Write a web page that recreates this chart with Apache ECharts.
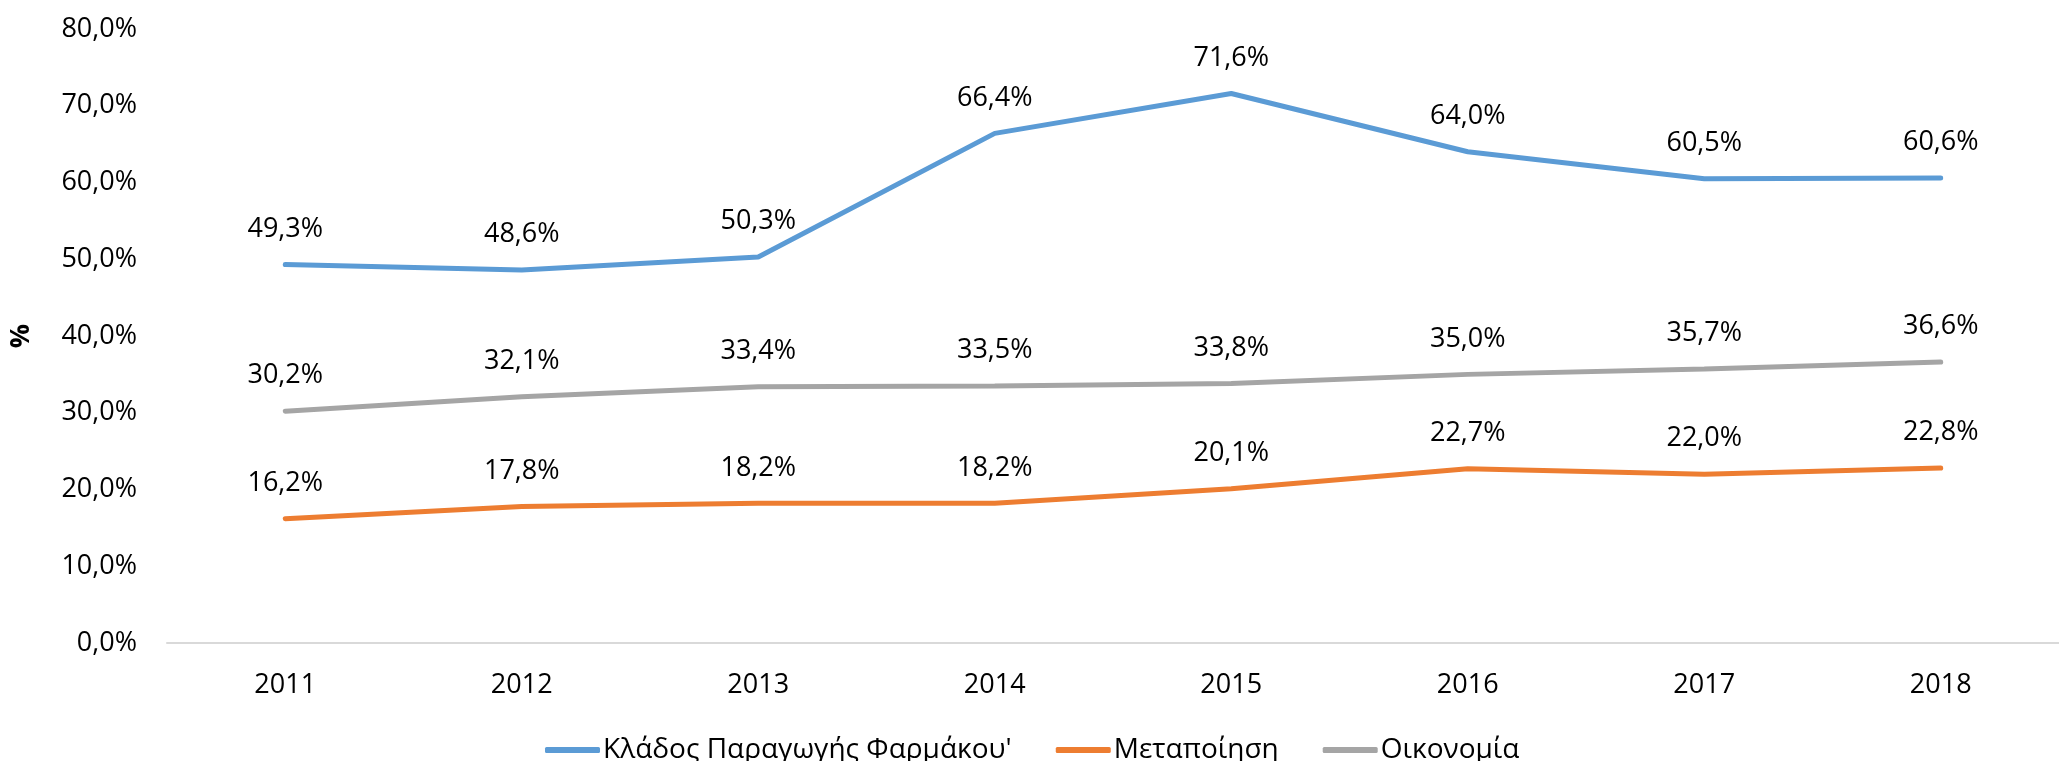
<!DOCTYPE html>
<html>
<head>
<meta charset="utf-8">
<script src="https://cdn.jsdelivr.net/npm/echarts@6/dist/echarts.min.js"></script>
<style>
  html, body { margin: 0; padding: 0; background: #fff; }
  #chart { width: 2059px; height: 761px; }
</style>
</head>
<body>
<div id="chart"></div>
<script>
const years = ['2011', '2012', '2013', '2014', '2015', '2016', '2017', '2018']
const pharma = [49.3, 48.6, 50.3, 66.4, 71.6, 64.0, 60.5, 60.6]
const manufacturing = [16.2, 17.8, 18.2, 18.2, 20.1, 22.7, 22.0, 22.8]
const economy = [30.2, 32.1, 33.4, 33.5, 33.8, 35.0, 35.7, 36.6]

const font = 'Open Sans'
const pct = v => v.toFixed(1).replace('.', ',') + '%'

const makeSeries = (name, data, color) => ({
  name,
  type: 'line',
  data,
  symbol: 'circle',
  symbolSize: 0,
  lineStyle: { width: 5, color, cap: 'round' },
  itemStyle: { color },
  label: {
    show: true,
    position: 'top',
    distance: 22,
    fontFamily: font,
    fontSize: 27,
    color: '#000',
    formatter: p => pct(p.value)
  }
})

const chart = echarts.init(document.getElementById('chart'))

chart.setOption({
  animation: false,
  grid: { left: 160, right: -8, top: 29, bottom: 118 },
  legend: {
    left: 540,
    top: 731,
    icon: 'roundRect',
    itemWidth: 55,
    itemHeight: 6,
    itemGap: 44,
    textStyle: { fontFamily: font, fontSize: 28, color: '#000', padding: [0, 0, 0, -2] }
  },
  xAxis: {
    type: 'category',
    data: years,
    axisLine: { lineStyle: { color: '#d9d9d9', width: 2 } },
    axisTick: { show: false },
    axisLabel: { fontFamily: font, fontSize: 27, color: '#000', margin: 29 }
  },
  yAxis: {
    type: 'value',
    min: 0,
    max: 80,
    interval: 10,
    name: '%',
    nameLocation: 'middle',
    nameGap: 132,
    nameTextStyle: { fontFamily: font, fontSize: 27, fontWeight: 'bold', color: '#000' },
    axisLine: { show: false },
    axisTick: { show: false },
    splitLine: { show: false },
    axisLabel: { fontFamily: font, fontSize: 27, color: '#000', margin: 30, formatter: v => pct(v) }
  },
  series: [
    makeSeries("Κλάδος Παραγωγής Φαρμάκου'", pharma, '#5b9bd5'),
    makeSeries('Μεταποίηση', manufacturing, '#ed7d31'),
    makeSeries('Οικονομία', economy, '#a5a5a5')
  ]
})
</script>
</body>
</html>
